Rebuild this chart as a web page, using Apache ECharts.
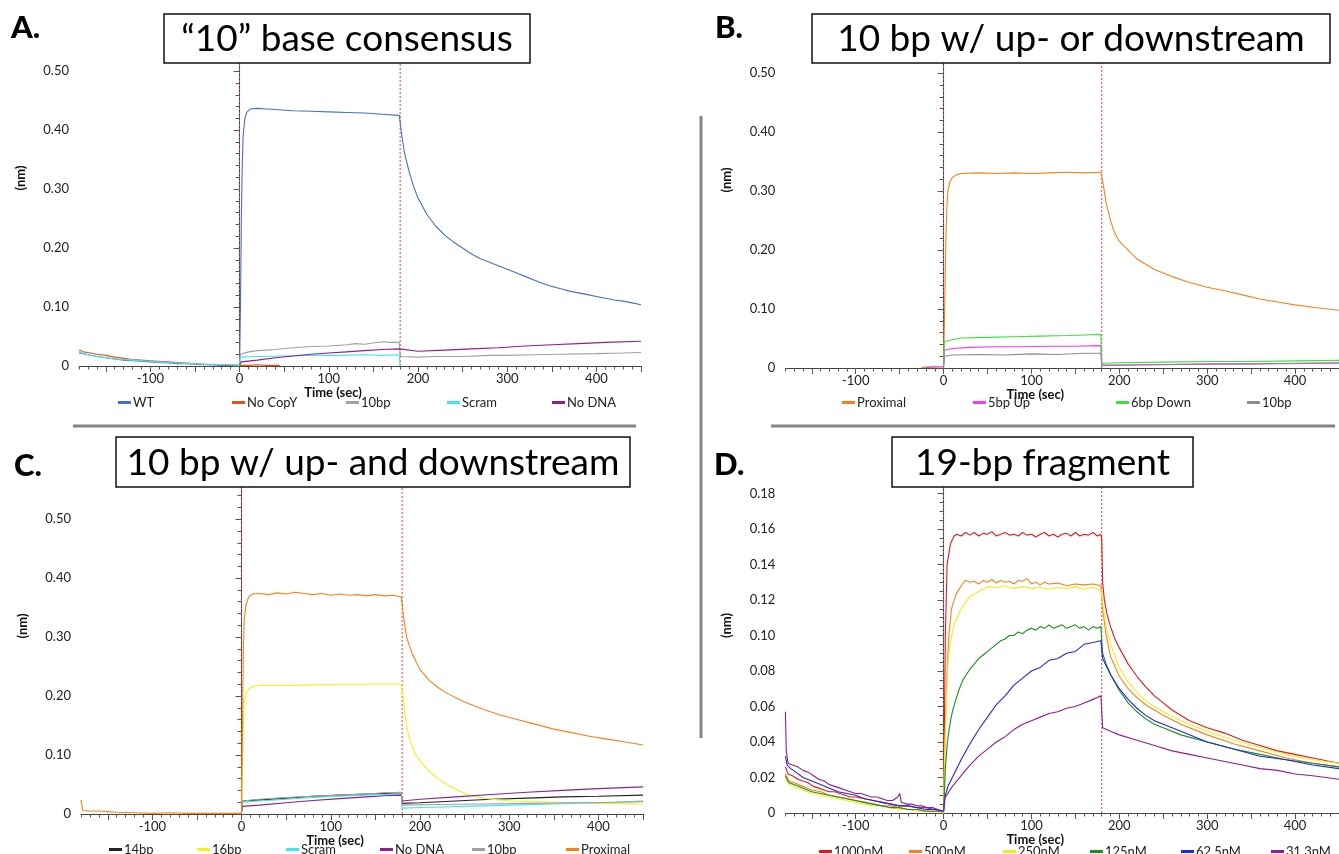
<!DOCTYPE html>
<html>
<head>
<meta charset="UTF-8">
<title>BLI binding traces</title>
<style>
  html, body { margin: 0; padding: 0; background: #fff; }
  #chart { width: 1339px; height: 854px; }
</style>
</head>
<body>
<div id="chart"></div>
<script src="https://cdn.jsdelivr.net/npm/echarts@6/dist/echarts.min.js"></script>
<script>
// ---- data: [time (sec), response (nm)] ----

// A. "10" base consensus
var A_WT = [[-180,0.022],[-175,0.021],[-170,0.019],[-160,0.016],[-150,0.014],[-140,0.012],[-130,0.010],[-120,0.009],[-110,0.008],[-100,0.007],[-90,0.006],[-80,0.005],[-70,0.004],[-60,0.004],[-50,0.003],[-40,0.002],[-30,0.002],[-20,0.001],[-10,0.001],[0,0.001],
  [1,0.10],[2,0.25],[3,0.34],[4,0.39],[6,0.42],[8,0.43],[12,0.436],[20,0.437],[30,0.436],[40,0.435],[60,0.433],[80,0.432],[100,0.431],[120,0.430],[140,0.429],[160,0.427],[179,0.425],
  [180,0.425],[182,0.39],[185,0.36],[190,0.33],[195,0.305],[200,0.285],[210,0.257],[220,0.237],[230,0.222],[240,0.21],[250,0.20],[260,0.19],[270,0.182],[280,0.176],[290,0.17],[300,0.164],[310,0.158],[320,0.152],[330,0.146],[340,0.14],[350,0.135],[360,0.131],[370,0.127],[380,0.124],[390,0.121],[400,0.118],[410,0.115],[420,0.112],[430,0.11],[440,0.107],[450,0.104]];
var A_NoCopY = [[-180,0.027],[-175,0.024],[-170,0.023],[-160,0.02],[-150,0.018],[-140,0.015],[-130,0.013],[-120,0.011],[-110,0.01],[-100,0.009],[-90,0.008],[-80,0.007],[-70,0.006],[-60,0.005],[-50,0.004],[-40,0.003],[-30,0.002],[-20,0.002],[-10,0.001],[0,0.001],[10,0.001],[20,0.002],[30,0.001],[45,0.001]];
var A_10bp = [[0,0.002],[1,0.02],[3,0.023],[10,0.024],[20,0.026],[40,0.028],[60,0.031],[80,0.033],[100,0.034],[120,0.036],[130,0.038],[140,0.037],[150,0.039],[160,0.041],[170,0.04],[179,0.04],
  [180,0.02],[181,0.016],[200,0.015],[220,0.016],[250,0.016],[280,0.018],[300,0.018],[330,0.019],[360,0.02],[400,0.021],[430,0.022],[450,0.023]];
var A_Scram = [[-180,0.024],[-175,0.021],[-170,0.019],[-160,0.016],[-150,0.014],[-140,0.012],[-130,0.011],[-120,0.01],[-110,0.009],[-100,0.008],[-90,0.007],[-80,0.006],[-70,0.005],[-60,0.004],[-50,0.004],[-40,0.003],[-30,0.003],[-20,0.002],[-10,0.002],[0,0.001],
  [1,0.015],[20,0.016],[50,0.017],[80,0.018],[110,0.018],[140,0.019],[160,0.018],[179,0.019],[180,0.0]];
var A_NoDNA = [[0,0.002],[2,0.007],[20,0.01],[40,0.014],[60,0.017],[80,0.02],[100,0.022],[120,0.024],[140,0.026],[160,0.028],[179,0.029],
  [180,0.026],[200,0.025],[230,0.027],[260,0.029],[290,0.031],[320,0.034],[350,0.036],[380,0.038],[410,0.04],[450,0.042]];

// B. 10 bp w/ up- or downstream
var B_Proximal = [[-25,0.001],[-10,0.002],[0,0.002],[1,0.08],[2,0.17],[3,0.24],[4,0.28],[5,0.30],[7,0.315],[10,0.323],[15,0.328],[20,0.33],[40,0.331],[60,0.33],[80,0.331],[100,0.33],[120,0.331],[140,0.332],[160,0.331],[179,0.332],
  [180,0.332],[183,0.30],[185,0.28],[190,0.25],[195,0.228],[200,0.215],[210,0.20],[220,0.185],[240,0.167],[260,0.155],[280,0.145],[300,0.137],[320,0.131],[340,0.124],[360,0.117],[380,0.112],[400,0.107],[420,0.103],[450,0.098]];
var B_5bpUp = [[-20,0.001],[0,0.002],[1,0.03],[10,0.033],[30,0.035],[60,0.036],[90,0.036],[120,0.037],[150,0.037],[179,0.038],
  [180,0.005],[200,0.005],[250,0.006],[300,0.007],[350,0.007],[400,0.008],[450,0.009]];
var B_6bpDown = [[0,0.002],[1,0.045],[10,0.048],[20,0.051],[50,0.052],[80,0.053],[110,0.054],[140,0.055],[160,0.056],[179,0.057],
  [180,0.008],[200,0.009],[250,0.01],[300,0.011],[350,0.011],[400,0.012],[450,0.013]];
var B_10bp = [[0,0.002],[1,0.02],[10,0.022],[40,0.023],[70,0.022],[100,0.024],[130,0.023],[160,0.025],[179,0.025],
  [180,0.004],[220,0.005],[280,0.006],[350,0.007],[450,0.008]];

// C. 10 bp w/ up- and downstream
var C_14bp = [[0,0.005],[1,0.022],[20,0.024],[50,0.027],[80,0.03],[110,0.032],[140,0.034],[160,0.035],[179,0.036],
  [180,0.018],[200,0.019],[240,0.022],[280,0.025],[320,0.027],[360,0.029],[400,0.03],[450,0.032]];
var C_16bp = [[0,0.005],[1,0.08],[2,0.15],[3,0.19],[5,0.205],[8,0.212],[12,0.216],[20,0.218],[50,0.218],[80,0.219],[110,0.22],[140,0.22],[160,0.221],[179,0.22],
  [180,0.22],[181,0.20],[183,0.17],[186,0.14],[190,0.12],[195,0.10],[200,0.09],[210,0.073],[220,0.06],[230,0.05],[240,0.042],[250,0.035],[260,0.03],[275,0.026],[300,0.022],[350,0.02],[400,0.018],[450,0.017]];
var C_Scram = [[0,0.005],[1,0.02],[20,0.022],[50,0.025],[80,0.028],[110,0.03],[140,0.032],[160,0.033],[179,0.034],
  [180,0.01],[200,0.011],[250,0.013],[300,0.015],[350,0.017],[400,0.019],[450,0.022]];
var C_NoDNA = [[0,0.003],[1,0.013],[20,0.015],[50,0.019],[80,0.023],[110,0.026],[140,0.029],[160,0.031],[179,0.032],
  [180,0.022],[200,0.025],[240,0.029],[280,0.033],[320,0.037],[360,0.04],[400,0.043],[450,0.046]];
var C_10bp = [[0,0.005],[1,0.022],[20,0.025],[50,0.028],[80,0.03],[110,0.032],[140,0.034],[160,0.036],[179,0.037],
  [180,0.015],[220,0.016],[270,0.017],[320,0.018],[370,0.019],[420,0.02],[450,0.021]];
var C_Proximal = [[-180,0.024],[-178,0.006],[-170,0.005],[-160,0.005],[-150,0.004],[-140,0.003],[-120,0.002],[-100,0.001],[-80,0.002],[-60,0.001],[-40,0.001],[-20,0.001],[0,0.001],
  [1,0.15],[2,0.28],[3,0.33],[5,0.355],[8,0.368],[12,0.373],[20,0.374],[30,0.372],[40,0.375],[50,0.373],[60,0.376],[70,0.374],[80,0.372],[90,0.374],[100,0.371],[110,0.373],[120,0.371],[130,0.372],[140,0.37],[150,0.372],[160,0.37],[170,0.371],[179,0.368],
  [180,0.368],[182,0.33],[185,0.30],[190,0.277],[195,0.26],[200,0.245],[210,0.227],[220,0.215],[230,0.205],[250,0.19],[270,0.178],[290,0.168],[310,0.16],[330,0.152],[350,0.144],[370,0.138],[390,0.132],[410,0.127],[430,0.122],[450,0.117]];

// D. 19-bp fragment
var D_1000 = [[-180,0.026],[-177,0.022],[-172,0.021],[-166,0.019],[-160,0.018],[-154,0.017],[-148,0.015],[-142,0.014],[-136,0.013],[-130,0.012],[-124,0.012],[-118,0.011],[-112,0.01],[-106,0.009],[-100,0.009],[-90,0.008],[-80,0.007],[-70,0.006],[-60,0.005],[-50,0.004],[-40,0.004],[-30,0.003],[-20,0.003],[-10,0.002],[0,0.001],
  [1,0.05],[2,0.10],[4,0.14],[8,0.152],[12,0.156],[15,0.157],[20,0.156],[25,0.158],[30,0.1565],[35,0.158],[40,0.156],[45,0.1575],[50,0.157],[55,0.1585],[60,0.156],[65,0.157],[70,0.158],[75,0.1565],[80,0.157],[85,0.156],[90,0.158],[95,0.1565],[100,0.157],[105,0.1555],[110,0.157],[115,0.158],[120,0.156],[125,0.157],[130,0.1555],[135,0.157],[140,0.1575],[145,0.156],[150,0.158],[155,0.156],[160,0.157],[165,0.1565],[170,0.158],[175,0.156],[179,0.157],
  [180,0.154],[181,0.13],[183,0.12],[186,0.112],[190,0.105],[195,0.098],[200,0.093],[210,0.084],[220,0.077],[230,0.071],[240,0.066],[250,0.062],[260,0.058],[280,0.052],[300,0.048],[320,0.045],[340,0.041],[360,0.038],[380,0.035],[400,0.033],[420,0.031],[440,0.029],[450,0.028]];
var D_500 = [[-180,0.022],[-176,0.018],[-170,0.017],[-160,0.015],[-150,0.013],[-140,0.012],[-130,0.01],[-120,0.009],[-110,0.008],[-100,0.007],[-90,0.006],[-80,0.005],[-70,0.004],[-60,0.004],[-50,0.003],[-40,0.002],[-30,0.002],[-20,0.001],[-10,0.001],[0,0.001],
  [2,0.05],[4,0.08],[6,0.10],[9,0.115],[14,0.123],[20,0.128],[25,0.131],[30,0.13],[35,0.1305],[40,0.129],[45,0.131],[50,0.13],[55,0.1315],[60,0.1295],[65,0.131],[70,0.13],[75,0.1305],[80,0.129],[85,0.131],[90,0.1305],[95,0.132],[100,0.129],[105,0.13],[110,0.1285],[115,0.13],[120,0.129],[130,0.1295],[140,0.128],[150,0.129],[160,0.1285],[170,0.129],[179,0.128],
  [180,0.128],[181,0.115],[185,0.10],[190,0.088],[200,0.077],[210,0.07],[220,0.065],[230,0.061],[240,0.058],[250,0.055],[270,0.05],[300,0.044],[330,0.039],[360,0.035],[390,0.031],[420,0.028],[450,0.026]];
var D_250 = [[-180,0.02],[-176,0.016],[-170,0.015],[-160,0.013],[-150,0.011],[-140,0.01],[-130,0.009],[-120,0.008],[-110,0.007],[-100,0.006],[-90,0.005],[-80,0.004],[-70,0.004],[-60,0.003],[-50,0.002],[-40,0.002],[-30,0.001],[-20,0.001],[-10,0.001],[0,0.0],
  [1,0.03],[3,0.06],[5,0.085],[8,0.097],[12,0.106],[20,0.115],[30,0.122],[45,0.126],[50,0.1275],[60,0.127],[70,0.128],[80,0.1265],[90,0.1275],[100,0.1265],[110,0.127],[120,0.126],[130,0.127],[140,0.1265],[150,0.1275],[160,0.126],[170,0.127],[179,0.1255],
  [180,0.126],[181,0.118],[185,0.105],[190,0.095],[200,0.082],[210,0.074],[220,0.068],[230,0.063],[240,0.06],[250,0.057],[270,0.052],[300,0.046],[330,0.041],[360,0.037],[390,0.033],[420,0.03],[450,0.028]];
var D_125 = [[-180,0.021],[-176,0.017],[-170,0.016],[-160,0.014],[-150,0.012],[-140,0.011],[-130,0.01],[-120,0.009],[-110,0.008],[-100,0.007],[-90,0.006],[-80,0.005],[-70,0.004],[-60,0.003],[-50,0.003],[-40,0.002],[-30,0.002],[-20,0.001],[-10,0.001],[0,0.001],
  [1,0.012],[2,0.025],[4,0.038],[6,0.046],[8,0.052],[10,0.057],[14,0.064],[18,0.07],[22,0.075],[26,0.078],[30,0.081],[35,0.084],[40,0.087],[45,0.089],[50,0.091],[55,0.093],[60,0.095],[65,0.097],[70,0.098],[75,0.10],[80,0.10],[85,0.102],[90,0.101],[95,0.103],[100,0.104],[105,0.103],[110,0.105],[115,0.104],[120,0.106],[125,0.104],[130,0.105],[135,0.106],[140,0.104],[145,0.105],[150,0.106],[155,0.104],[160,0.105],[165,0.103],[170,0.105],[175,0.104],[179,0.105],
  [180,0.104],[181,0.09],[185,0.084],[190,0.078],[200,0.069],[210,0.062],[220,0.057],[230,0.053],[240,0.05],[250,0.048],[270,0.044],[300,0.04],[330,0.036],[360,0.033],[390,0.03],[420,0.028],[450,0.026]];
var D_62_5 = [[-180,0.032],[-178,0.027],[-174,0.025],[-168,0.023],[-160,0.02],[-150,0.018],[-140,0.016],[-130,0.014],[-120,0.012],[-110,0.011],[-100,0.01],[-90,0.008],[-80,0.007],[-70,0.006],[-60,0.005],[-50,0.004],[-40,0.004],[-30,0.003],[-20,0.002],[-10,0.002],[0,0.001],
  [1,0.005],[2,0.01],[5,0.015],[10,0.02],[20,0.03],[30,0.039],[40,0.047],[50,0.054],[60,0.061],[70,0.066],[80,0.072],[90,0.076],[100,0.08],[110,0.082],[120,0.086],[130,0.087],[140,0.09],[150,0.091],[160,0.095],[170,0.096],[179,0.097],
  [180,0.097],[181,0.087],[185,0.083],[190,0.078],[200,0.07],[210,0.064],[220,0.059],[230,0.055],[240,0.052],[250,0.05],[270,0.046],[300,0.04],[330,0.036],[360,0.032],[390,0.03],[420,0.027],[450,0.025]];
var D_31_3 = [[-180,0.057],[-179,0.035],[-177,0.028],[-172,0.027],[-166,0.026],[-160,0.024],[-154,0.023],[-148,0.021],[-142,0.019],[-136,0.018],[-130,0.016],[-124,0.015],[-118,0.014],[-112,0.013],[-106,0.012],[-100,0.011],[-94,0.011],[-88,0.01],[-82,0.009],[-76,0.009],[-70,0.008],[-64,0.007],[-58,0.007],[-52,0.009],[-50,0.011],[-48,0.006],[-42,0.005],[-36,0.005],[-30,0.004],[-24,0.004],[-18,0.003],[-12,0.003],[-6,0.002],[0,0.001],
  [1,0.008],[10,0.015],[20,0.021],[30,0.027],[40,0.032],[50,0.036],[60,0.04],[70,0.043],[80,0.047],[90,0.05],[100,0.052],[110,0.054],[120,0.056],[130,0.057],[140,0.059],[150,0.06],[160,0.062],[170,0.064],[175,0.065],[179,0.066],
  [180,0.066],[181,0.048],[190,0.046],[200,0.044],[220,0.041],[240,0.038],[260,0.035],[280,0.033],[300,0.031],[320,0.029],[340,0.027],[360,0.025],[380,0.024],[400,0.022],[420,0.021],[450,0.019]];

// start of association and of dissociation (dotted red markers)
var phaseTimes = [0, 180];

// tick labels
var timeLabels = [-100, 0, 100, 200, 300, 400];
var nmLabels = [0, 0.1, 0.2, 0.3, 0.4, 0.5];
var nmLabelsD = [0, 0.02, 0.04, 0.06, 0.08, 0.10, 0.12, 0.14, 0.16, 0.18];

// ---- layout ----
var FONT = 'Lato';
var panels = [
  { letter: 'A.', title: '\u201c10\u201d base consensus',
    grid: { left: 79, right: 698, top: 14, bottom: 488 }, ymax: 0.597, yLabels: nmLabels, yMinor: 0.02,
    box: [164, 14, 366, 49], letterPos: [11, 28], legendY: 396,
    series: [
      ['WT', '#4472c4', A_WT, 118], ['No CopY', '#e0541c', A_NoCopY, 232], ['10bp', '#a0a0a0', A_10bp, 346],
      ['Scram', '#3ee8f0', A_Scram, 447], ['No DNA', '#8e1f8e', A_NoDNA, 552]] },
  { letter: 'B.', title: '10 bp w/ up- or downstream',
    grid: { left: 785.4, right: -5.6, top: 16, bottom: 486 }, ymax: 0.597, yLabels: nmLabels, yMinor: 0.02,
    box: [812, 14, 518, 49], letterPos: [715, 28], legendY: 396,
    series: [
      ['Proximal', '#f5821f', B_Proximal, 842], ['5bp Up', '#f03cf0', B_5bpUp, 973],
      ['6bp Down', '#3ee03e', B_6bpDown, 1116], ['10bp', '#8c8c8c', B_10bp, 1247]] },
  { letter: 'C.', title: '10 bp w/ up- and downstream',
    grid: { left: 81, right: 696, top: 462, bottom: 40 }, ymax: 0.597, yLabels: nmLabels, yMinor: 0.02,
    box: [116, 437, 514, 50], letterPos: [14, 466], legendY: 843,
    series: [
      ['14bp', '#222222', C_14bp, 109], ['16bp', '#f5f01e', C_16bp, 197], ['Scram', '#3ee8f0', C_Scram, 286],
      ['No DNA', '#8e1f8e', C_NoDNA, 380], ['10bp', '#a0a0a0', C_10bp, 472], ['Proximal', '#f5821f', C_Proximal, 566]] },
  { letter: 'D.', title: '19-bp fragment',
    grid: { left: 785.4, right: -5.6, top: 462, bottom: 41 }, ymax: 0.1977, yLabels: nmLabelsD, yMinor: 0.005,
    box: [892, 437, 301, 50], letterPos: [714, 465], legendY: 845,
    series: [
      ['1000nM', '#e8161b', D_1000, 819], ['500nM', '#f5821f', D_500, 909], ['250nM', '#f2ec1c', D_250, 1003],
      ['125nM', '#1e8c1e', D_125, 1090], ['62.5nM', '#1e28e6', D_62_5, 1181], ['31.3nM', '#8e1f8e', D_31_3, 1271]] }
];

function steps(from, to, step) {
  var out = [];
  for (var v = from; v <= to + 1e-9; v += step) out.push(Math.round(v * 10000) / 10000);
  return out;
}

var chart = echarts.init(document.getElementById('chart'));
var grids = [], xAxes = [], yAxes = [], series = [], legends = [], graphics = [];
var TICK = { color: '#555', width: 1 };

panels.forEach(function (p, g) {
  grids.push(p.grid);
  var yMajor = p.yLabels;
  // main x axis: labels every 100, long ticks every 50
  xAxes.push({
    gridIndex: g, type: 'value', min: -180, max: 450, position: 'bottom',
    name: 'Time (sec)', nameLocation: 'middle', nameGap: 17,
    nameTextStyle: { fontFamily: FONT, fontWeight: 'bold', fontSize: 13, color: '#111', padding: [0, 54, 0, 0] },
    axisLine: { show: true, lineStyle: { color: '#444', width: 1 } },
    axisTick: { show: true, customValues: steps(-150, 450, 50), length: 6, lineStyle: TICK },
    axisLabel: { customValues: timeLabels, margin: 6, fontFamily: FONT, fontSize: 13, color: '#222' },
    splitLine: { show: false }
  });
  // minor x ticks every 10 s
  xAxes.push({
    gridIndex: g, type: 'value', min: -180, max: 450, position: 'bottom',
    axisLine: { show: true, lineStyle: { color: '#444', opacity: 0 } },
    axisLabel: { show: false }, splitLine: { show: false },
    axisTick: { show: true, customValues: steps(-180, 450, 10), length: 3.5, lineStyle: TICK }
  });
  yAxes.push({
    gridIndex: g, type: 'value', min: 0, max: p.ymax, position: 'left',
    name: '(nm)', nameLocation: 'middle', nameRotate: 90, nameGap: 52,
    nameTextStyle: { fontFamily: FONT, fontWeight: 'bold', fontSize: 13, color: '#111', padding: [0, 0, 0, 24] },
    axisLine: { show: true, lineStyle: { color: '#444', width: 1 } },
    axisTick: { show: true, customValues: yMajor, length: 6, lineStyle: TICK },
    axisLabel: { customValues: yMajor, margin: 10, fontFamily: FONT, fontSize: 13, color: '#222',
      formatter: function (v) { return v === 0 ? '0' : v.toFixed(2); } },
    splitLine: { show: false }
  });
  // minor y ticks
  yAxes.push({
    gridIndex: g, type: 'value', min: 0, max: p.ymax, position: 'left',
    axisLine: { show: true, lineStyle: { color: '#444', opacity: 0 } },
    axisLabel: { show: false }, splitLine: { show: false },
    axisTick: { show: true, customValues: steps(0, p.ymax, p.yMinor), length: 4, lineStyle: TICK }
  });

  // dotted phase markers
  phaseTimes.forEach(function (t) {
    series.push({
      type: 'line', xAxisIndex: g * 2, yAxisIndex: g * 2, data: [[t, 0], [t, p.ymax]],
      symbol: 'none', animation: false, silent: true, z: 2,
      lineStyle: { color: '#e8403a', type: [2, 2], width: 1 }
    });
  });

  p.series.forEach(function (s, i) {
    series.push({
      type: 'line', name: s[0], xAxisIndex: g * 2, yAxisIndex: g * 2, data: s[2],
      symbol: 'none', showSymbol: false, animation: false, silent: true,
      lineStyle: { color: s[1], width: 1.1 }, itemStyle: { color: s[1] }, z: 3 + i
    });
    legends.push({
      left: s[3], top: p.legendY, padding: 0, selectedMode: false,
      itemWidth: 13, itemHeight: 3, itemGap: 0, icon: 'rect',
      textStyle: { fontFamily: FONT, fontSize: 13, color: '#222', padding: [0, 0, 0, -3] },
      data: [{ name: s[0], itemStyle: { color: s[1] } }]
    });
  });

  // title box
  graphics.push({
    type: 'rect', z: 100,
    shape: { x: p.box[0], y: p.box[1], width: p.box[2], height: p.box[3] },
    style: { fill: '#fff', stroke: '#111', lineWidth: 1.5 }
  });
  graphics.push({
    type: 'text', z: 101, x: p.box[0] + p.box[2] / 2, y: p.box[1] + p.box[3] / 2 + 1,
    style: { text: p.title, fontFamily: FONT, fontSize: 37, fill: '#000', align: 'center', verticalAlign: 'middle' }
  });
  // panel letter
  graphics.push({
    type: 'text', z: 101, x: p.letterPos[0], y: p.letterPos[1],
    style: { text: p.letter, fontFamily: FONT, fontWeight: 900, fontSize: 31, fill: '#000', align: 'left', verticalAlign: 'middle' }
  });
});

// grey separators between panels
[[73, 426, 636, 426], [771, 426, 1335, 426], [701, 116, 701, 738]].forEach(function (l) {
  graphics.push({
    type: 'line', z: 90,
    shape: { x1: l[0], y1: l[1], x2: l[2], y2: l[3] },
    style: { stroke: '#858585', lineWidth: 3 }
  });
});

chart.setOption({
  animation: false,
  backgroundColor: '#fff',
  grid: grids,
  xAxis: xAxes,
  yAxis: yAxes,
  legend: legends,
  series: series,
  graphic: { elements: graphics }
});
</script>
</body>
</html>
